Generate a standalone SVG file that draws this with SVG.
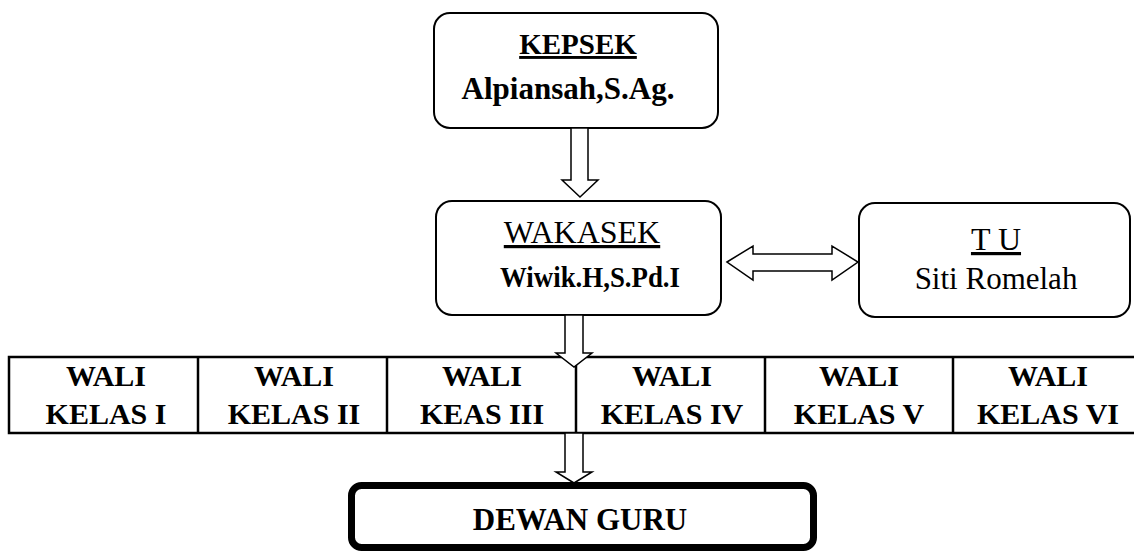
<svg xmlns="http://www.w3.org/2000/svg" width="1134" height="552" viewBox="0 0 1134 552">
<style>
.box{fill:#fff;stroke:#000;stroke-width:2}
.arr{fill:#fff;stroke:#000;stroke-width:1.5;stroke-linejoin:miter}
.lbl{fill:#000;text-anchor:middle;font-family:'Liberation Serif','Times New Roman',serif}
.bold{font-weight:bold}
.ul{text-decoration:underline}
.cell{fill:none;stroke:#000;stroke-width:2.5}
.wali{font-size:30px;font-weight:bold}
</style>
<rect width="1134" height="552" fill="#fff"/>
<g id="kepsek">
<rect class="box" x="434" y="13" width="284" height="115" rx="16"/>
<text class="lbl bold ul" x="578" y="54" font-size="29">KEPSEK</text>
<text class="lbl bold" x="568" y="99" font-size="31">Alpiansah,S.Ag.</text>
</g>
<g id="wakasek">
<rect class="box" x="436" y="201" width="285" height="114" rx="16"/>
<text class="lbl ul" x="582" y="243" font-size="32">WAKASEK</text>
<text class="lbl bold" x="590" y="287" font-size="29" textLength="180" lengthAdjust="spacingAndGlyphs">Wiwik.H,S.Pd.I</text>
</g>
<g id="tu">
<rect class="box" x="859" y="203" width="271" height="114" rx="16"/>
<text class="lbl ul" x="996" y="250" font-size="32">T U</text>
<text class="lbl" x="996" y="289" font-size="31">Siti Romelah</text>
</g>
<g id="wali-kelas">
<rect class="cell" x="9" y="357" width="1135" height="76"/>
<line class="cell" x1="198" y1="357" x2="198" y2="433"/>
<line class="cell" x1="387" y1="357" x2="387" y2="433"/>
<line class="cell" x1="576" y1="357" x2="576" y2="433"/>
<line class="cell" x1="765" y1="357" x2="765" y2="433"/>
<line class="cell" x1="953" y1="357" x2="953" y2="433"/>
<g id="wali1"><text class="lbl wali" x="106" y="386">WALI</text><text class="lbl wali" x="106" y="424">KELAS I</text></g>
<g id="wali2"><text class="lbl wali" x="294" y="386">WALI</text><text class="lbl wali" x="294" y="424">KELAS II</text></g>
<g id="wali3"><text class="lbl wali" x="482" y="386">WALI</text><text class="lbl wali" x="482" y="424">KEAS III</text></g>
<g id="wali4"><text class="lbl wali" x="672" y="386">WALI</text><text class="lbl wali" x="672" y="424">KELAS IV</text></g>
<g id="wali5"><text class="lbl wali" x="859" y="386">WALI</text><text class="lbl wali" x="859" y="424">KELAS V</text></g>
<g id="wali6"><text class="lbl wali" x="1048" y="386">WALI</text><text class="lbl wali" x="1048" y="424">KELAS VI</text></g>
</g>
<g id="dewan-guru">
<rect x="351.5" y="485.5" width="462" height="62" rx="10" fill="#fff" stroke="#000" stroke-width="7"/>
<text class="lbl bold" x="580" y="530" font-size="31">DEWAN GURU</text>
</g>
<g id="connectors">
<polygon class="arr" points="571,128 588,128 588,180 598,180 580,197 562,180 571,180"/>
<polygon class="arr" points="565,315 583,315 583,353 592,353 574,367 556,353 565,353"/>
<polygon class="arr" points="565,433 583,433 583,472 592,472 574,483 556,472 565,472"/>
<polygon class="arr" points="727,262 753,246 753,254 832,254 832,246 858,262 832,280 832,271 753,271 753,280"/>
</g>
</svg>
